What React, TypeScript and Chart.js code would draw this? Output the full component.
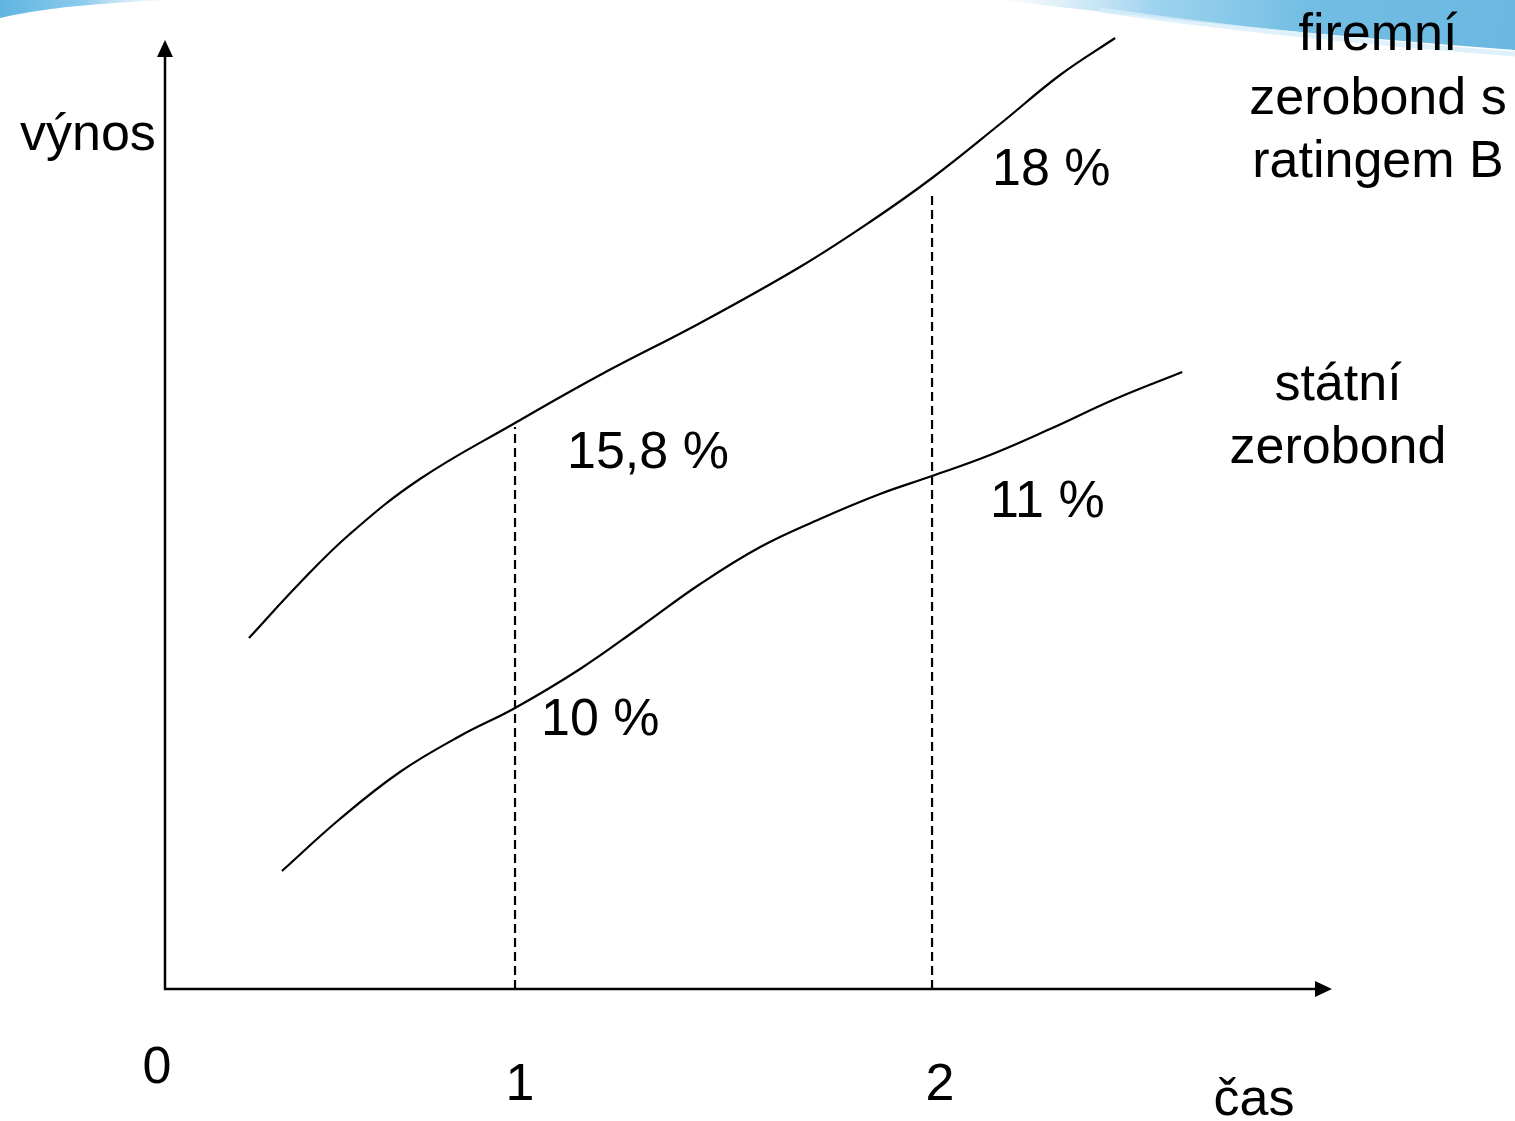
import { useEffect, useRef } from "react";
import { Chart, registerables } from "chart.js";

Chart.register(...registerables);

// ---- data (schematic yield curves) ----
const corporateX = [0.362, 0.484, 0.604, 0.772, 1.0, 1.204, 1.444, 1.683, 1.851, 2.0, 2.163, 2.307, 2.439];
const corporateY = [3.51, 4.06, 4.55, 5.1, 5.66, 6.14, 6.66, 7.22, 7.67, 8.11, 8.65, 9.14, 9.51];
const govX = [0.441, 0.58, 0.724, 0.868, 1.0, 1.156, 1.3, 1.444, 1.588, 1.731, 1.875, 2.0, 2.139, 2.283, 2.439, 2.6];
const govY = [1.18, 1.7, 2.17, 2.53, 2.81, 3.2, 3.62, 4.05, 4.42, 4.7, 4.95, 5.13, 5.34, 5.6, 5.9, 6.17];
const maturities = [1, 2];
const dashTops = [5.62, 7.98];
const corporateLabels = ["15,8 %", "18 %"];
const govLabels = ["10 %", "11 %"];
const xTickLabels = ["0", "1", "2"];
const corporateName = ["firemní", "zerobond s", "ratingem B"];
const govName = ["státní", "zerobond"];
const yAxisTitle = "výnos";
const xAxisTitle = "čas";

const X_MIN = 0.1607;
const X_MAX = 2.959;
const Y_MIN = 0;
const Y_MAX = 9.49;
const FONT = '52px "Liberation Sans", Arial, sans-serif';

const diagramPlugin = {
  id: "diagram",
  beforeDraw(chart: any) {
    const ctx = chart.ctx as CanvasRenderingContext2D;
    const W = chart.width;
    ctx.save();
    ctx.fillStyle = "#ffffff";
    ctx.fillRect(0, 0, W, chart.height);
    // decorative blue swoosh (top-right)
    let g = ctx.createLinearGradient(1000, 0, 1515, 40);
    g.addColorStop(0, "rgba(150,205,236,0)");
    g.addColorStop(0.3, "rgba(125,196,232,0.75)");
    g.addColorStop(0.6, "#72bde3");
    g.addColorStop(1, "#6ab8e1");
    ctx.fillStyle = g;
    ctx.beginPath();
    ctx.moveTo(1000, 0);
    ctx.quadraticCurveTo(1250, 30, 1515, 50);
    ctx.lineTo(1515, 0);
    ctx.closePath();
    ctx.fill();
    // soft light edge under it
    ctx.strokeStyle = "rgba(215,238,250,0.8)";
    ctx.lineWidth = 5;
    ctx.beginPath();
    ctx.moveTo(1100, 10);
    ctx.quadraticCurveTo(1280, 36, 1515, 54);
    ctx.stroke();
    // top-left swoosh
    g = ctx.createLinearGradient(0, 20, 170, 0);
    g.addColorStop(0, "#5fb4e0");
    g.addColorStop(0.5, "rgba(110,190,232,0.8)");
    g.addColorStop(1, "rgba(160,215,240,0)");
    ctx.fillStyle = g;
    ctx.beginPath();
    ctx.moveTo(0, 0);
    ctx.lineTo(0, 18);
    ctx.quadraticCurveTo(60, 4, 170, 0);
    ctx.closePath();
    ctx.fill();
    ctx.restore();
  },
  beforeDatasetsDraw(chart: any) {
    const ctx = chart.ctx as CanvasRenderingContext2D;
    const xs = chart.scales.x;
    const ys = chart.scales.y;
    const x0 = xs.getPixelForValue(X_MIN);
    const y0 = ys.getPixelForValue(Y_MIN);
    const yTop = ys.getPixelForValue(Y_MAX);
    const xRight = xs.getPixelForValue(X_MAX);
    ctx.save();
    ctx.strokeStyle = "#000";
    ctx.fillStyle = "#000";
    ctx.lineWidth = 2.5;
    ctx.beginPath();
    ctx.moveTo(x0, y0);
    ctx.lineTo(x0, yTop + 14);
    ctx.moveTo(x0 - 1.2, y0);
    ctx.lineTo(xRight - 14, y0);
    ctx.stroke();
    // arrow heads
    ctx.beginPath();
    ctx.moveTo(x0, yTop);
    ctx.lineTo(x0 - 8, yTop + 17);
    ctx.lineTo(x0 + 8, yTop + 17);
    ctx.closePath();
    ctx.fill();
    ctx.beginPath();
    ctx.moveTo(xRight, y0);
    ctx.lineTo(xRight - 17, y0 - 8);
    ctx.lineTo(xRight - 17, y0 + 8);
    ctx.closePath();
    ctx.fill();
    ctx.restore();
  },
  afterDraw(chart: any) {
    const ctx = chart.ctx as CanvasRenderingContext2D;
    const xs = chart.scales.x;
    const ys = chart.scales.y;
    ctx.save();
    ctx.fillStyle = "#000";
    ctx.font = FONT;
    ctx.textBaseline = "alphabetic";
    // axis titles
    ctx.textAlign = "left";
    ctx.fillText(yAxisTitle, 20, 150);
    ctx.textAlign = "center";
    ctx.fillText(xAxisTitle, 1254, 1115);
    // tick labels
    const tickVals = [X_MIN, ...maturities];
    const tickDx = [-8, 5, 8];
    const tickY = [1083, 1100, 1100];
    xTickLabels.forEach((t, i) => {
      ctx.fillText(t, xs.getPixelForValue(tickVals[i]) + tickDx[i], tickY[i]);
    });
    // value labels
    ctx.textAlign = "left";
    const cIdx = maturities.map((m) => corporateX.indexOf(m));
    const gIdx = maturities.map((m) => govX.indexOf(m));
    const cDx = [52, 60];
    const cDy = [45, 7];
    const gDx = [26, 58];
    const gDy = [27, 41];
    maturities.forEach((m, i) => {
      const px = xs.getPixelForValue(m);
      ctx.fillText(corporateLabels[i], px + cDx[i], ys.getPixelForValue(corporateY[cIdx[i]]) + cDy[i]);
      ctx.fillText(govLabels[i], px + gDx[i], ys.getPixelForValue(govY[gIdx[i]]) + gDy[i]);
    });
    // series names
    ctx.textAlign = "center";
    corporateName.forEach((l, i) => ctx.fillText(l, 1378, 50 + i * 63.5));
    govName.forEach((l, i) => ctx.fillText(l, 1338, 400 + i * 63));
    ctx.restore();
  },
};

export default function App() {
  const ref = useRef<HTMLCanvasElement | null>(null);
  useEffect(() => {
    if (!ref.current) return;
    const curve = (xsArr: number[], ysArr: number[]) => xsArr.map((x, i) => ({ x, y: ysArr[i] }));
    const chart = new Chart(ref.current, {
      type: "line",
      data: {
        datasets: [
          {
            label: corporateName.join(" "),
            data: curve(corporateX, corporateY),
            borderColor: "#000",
            borderWidth: 2.2,
            pointRadius: 0,
            tension: 0.4,
            clip: false as any,
          },
          {
            label: govName.join(" "),
            data: curve(govX, govY),
            borderColor: "#000",
            borderWidth: 2.2,
            pointRadius: 0,
            tension: 0.4,
            clip: false as any,
          },
          ...maturities.map((m, i) => ({
            label: "t=" + m,
            data: [
              { x: m, y: 0 },
              { x: m, y: dashTops[i] },
            ],
            borderColor: "#000",
            borderWidth: 2.2,
            borderDash: [9, 5],
            pointRadius: 0,
            tension: 0,
          })),
        ],
      },
      options: {
        animation: false,
        responsive: false,
        maintainAspectRatio: false,
        layout: { padding: { left: 165, right: 183, top: 40, bottom: 132 } },
        plugins: { legend: { display: false }, tooltip: { enabled: false }, title: { display: false } },
        scales: {
          x: { type: "linear", min: X_MIN, max: X_MAX, display: false },
          y: { type: "linear", min: Y_MIN, max: Y_MAX, display: false },
        },
        events: [],
      },
      plugins: [diagramPlugin],
    });
    return () => chart.destroy();
  }, []);
  return (
    <div style={{ position: "fixed", left: 0, top: 0, width: 1515, height: 1121, background: "#fff" }}>
      <canvas ref={ref} width={1515} height={1121} style={{ width: 1515, height: 1121, display: "block" }} />
    </div>
  );
}
